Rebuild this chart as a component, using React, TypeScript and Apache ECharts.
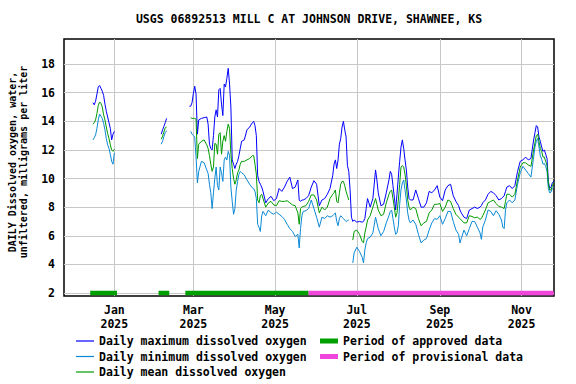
import React, { useEffect, useRef } from 'react';
import * as echarts from 'echarts';

const FONT = '"DejaVu Sans Mono", "Liberation Mono", monospace';

const titleText = 'USGS 06892513 MILL C AT JOHNSON DRIVE, SHAWNEE, KS';
const yAxisTitle = ['DAILY Dissolved oxygen, water,', 'unfiltered, milligrams per liter'];
const yTicks = [2, 4, 6, 8, 10, 12, 14, 16, 18];
const xTicks = ['2025-01-01', '2025-03-01', '2025-05-01', '2025-07-01', '2025-09-01', '2025-11-01'];
const xTickLabels = ['Jan\n2025', 'Mar\n2025', 'May\n2025', 'Jul\n2025', 'Sep\n2025', 'Nov\n2025'];
const xRange = ['2024-11-24T10:00:00', '2025-11-25T05:00:00'];

const nameMax = 'Daily maximum dissolved oxygen';
const nameMin = 'Daily minimum dissolved oxygen';
const nameMean = 'Daily mean dissolved oxygen';
const nameApproved = 'Period of approved data';
const nameProvisional = 'Period of provisional data';

// dates (null values break the lines)
const dates = [
  // Dec 2024 - Jan 1
  '2024-12-16', '2024-12-17', '2024-12-18', '2024-12-19', '2024-12-20', '2024-12-21', '2024-12-22', '2024-12-23',
  '2024-12-24', '2024-12-25', '2024-12-26', '2024-12-27', '2024-12-28', '2024-12-29', '2024-12-30', '2024-12-31', '2025-01-01',
  '2025-01-20',
  // Feb
  '2025-02-05', '2025-02-06', '2025-02-07', '2025-02-08', '2025-02-09',
  '2025-02-17',
  '2025-02-26', '2025-02-27', '2025-02-28',
  // Mar
  '2025-03-01', '2025-03-02', '2025-03-03', '2025-03-04', '2025-03-05', '2025-03-07', '2025-03-09', '2025-03-11',
  '2025-03-12', '2025-03-13', '2025-03-14', '2025-03-15', '2025-03-16', '2025-03-17', '2025-03-18', '2025-03-19', '2025-03-20',
  '2025-03-21', '2025-03-22', '2025-03-23', '2025-03-24', '2025-03-25', '2025-03-26', '2025-03-27', '2025-03-28', '2025-03-29',
  '2025-03-30', '2025-03-31',
  // Apr
  '2025-04-01', '2025-04-02', '2025-04-03', '2025-04-04', '2025-04-05', '2025-04-06', '2025-04-08', '2025-04-10', '2025-04-12',
  '2025-04-14', '2025-04-15', '2025-04-16', '2025-04-17', '2025-04-18', '2025-04-19', '2025-04-20', '2025-04-21', '2025-04-22',
  '2025-04-24', '2025-04-26', '2025-04-28', '2025-04-30',
  // May
  '2025-05-02', '2025-05-04', '2025-05-06', '2025-05-08', '2025-05-10', '2025-05-12', '2025-05-14', '2025-05-16', '2025-05-18',
  '2025-05-19', '2025-05-20', '2025-05-21', '2025-05-22', '2025-05-24', '2025-05-26', '2025-05-28', '2025-05-30',
  // Jun
  '2025-06-01', '2025-06-03', '2025-06-05', '2025-06-07', '2025-06-09', '2025-06-11', '2025-06-13', '2025-06-14', '2025-06-15',
  '2025-06-16', '2025-06-17', '2025-06-18', '2025-06-19', '2025-06-20', '2025-06-21', '2025-06-22', '2025-06-23', '2025-06-24',
  '2025-06-25', '2025-06-26', '2025-06-27', '2025-06-28', '2025-06-29',
  // Jul
  '2025-07-01', '2025-07-03', '2025-07-05', '2025-07-06', '2025-07-07', '2025-07-08', '2025-07-09', '2025-07-11', '2025-07-13',
  '2025-07-15', '2025-07-16', '2025-07-17', '2025-07-19', '2025-07-21', '2025-07-23', '2025-07-25', '2025-07-26', '2025-07-27',
  '2025-07-28', '2025-07-29', '2025-07-30', '2025-07-31',
  // Aug
  '2025-08-01', '2025-08-02', '2025-08-03', '2025-08-04', '2025-08-05', '2025-08-06', '2025-08-07', '2025-08-08', '2025-08-09',
  '2025-08-10', '2025-08-12', '2025-08-14', '2025-08-16', '2025-08-18', '2025-08-20', '2025-08-22', '2025-08-24', '2025-08-26',
  '2025-08-28', '2025-08-30',
  // Sep
  '2025-09-01', '2025-09-03', '2025-09-05', '2025-09-07', '2025-09-09', '2025-09-11', '2025-09-13', '2025-09-15', '2025-09-16',
  '2025-09-17', '2025-09-19', '2025-09-21', '2025-09-23', '2025-09-25', '2025-09-27', '2025-09-29',
  // Oct
  '2025-10-01', '2025-10-02', '2025-10-03', '2025-10-05', '2025-10-07', '2025-10-09', '2025-10-11', '2025-10-13', '2025-10-15',
  '2025-10-17', '2025-10-18', '2025-10-19', '2025-10-20', '2025-10-21', '2025-10-23', '2025-10-25', '2025-10-27', '2025-10-29',
  '2025-10-31',
  // Nov
  '2025-11-02', '2025-11-04', '2025-11-06', '2025-11-08', '2025-11-10', '2025-11-11', '2025-11-12', '2025-11-13', '2025-11-14',
  '2025-11-15', '2025-11-16', '2025-11-17', '2025-11-18', '2025-11-19', '2025-11-20', '2025-11-21', '2025-11-22', '2025-11-23',
  '2025-11-24', '2025-11-25',
];

const dailyMax = [
  15.3, 15.15, 15.4, 15.9, 16.4, 16.5, 16.3, 16.1, 15.8, 15.2, 14.7, 14.3, 13.9, 13.5, 12.7, 13.1, 13.3,
  null,
  13.1, 13.4, 13.65, 13.9, 14.2,
  null,
  15.05, 15.05, 15.3,
  15.95, 16.45, 15.9, 13.1, 14.1, 14.2, 14.25, 14.3, 13.8, 12.4, 12.1, 12.0, 13.0, 14.3, 14.8, 14.3, 16.2, 16.3, 15.2, 14.4,
  16.6, 16.4, 17.0, 17.7, 16.6, 15.0, 11.3, 11.0,
  10.7, 11.0, 11.2, 11.6, 12.1, 12.6, 12.7, 13.4, 13.6, 13.9, 14.0, 13.7, 13.0, 10.2, 9.8, 9.6, 9.4, 9.1, 8.3, 8.6, 8.75, 8.45,
  8.6, 9.3, 9.1, 9.4, 9.8, 10.1, 9.3, 9.4, 9.9, 8.5, 8.4, 8.5, 8.5, 8.6, 8.8, 9.4, 9.85,
  9.6, 8.1, 8.5, 8.6, 8.9, 9.3, 10.2, 11.0, 11.3, 10.7, 11.3, 12.4, 12.8, 13.6, 14.0, 13.4, 12.9, 10.9, 10.5, 9.2, 7.3, 7.0, 7.1,
  6.95, 7.0, 6.95, 7.0, 7.2, 7.9, 8.6, 8.0, 8.6, 10.6, 9.9, 9.0, 8.1, 8.2, 9.0, 9.9, 10.5, 10.3, 9.5, 8.7, 7.8, 8.9,
  10.1, 11.2, 12.2, 12.7, 12.1, 11.3, 10.6, 9.4, 8.6, 8.5, 8.5, 9.2, 8.6, 8.0, 8.0, 8.3, 9.1, 9.0, 9.2, 9.5,
  8.7, 8.45, 9.2, 9.5, 9.6, 8.8, 8.4, 8.1, 7.8, 7.6, 7.3, 7.2, 7.8, 7.9, 8.0, 7.9,
  8.0, 8.1, 8.3, 8.5, 8.9, 9.1, 9.0, 8.8, 8.5, 8.6, 8.7, 8.8, 9.1, 9.4, 9.5, 9.3, 9.5, 10.5, 11.2,
  11.3, 11.5, 11.3, 11.4, 12.7, 13.2, 13.7, 13.6, 12.9, 12.6, 12.2, 11.9, 12.0, 11.7, 11.4, 9.8, 9.3, 9.4, 9.7, 9.8,
];

const dailyMin = [
  12.7, 12.85, 13.05, 13.5, 14.1, 14.5, 14.35, 14.2, 13.85, 13.4, 12.8, 12.35, 12.1, 11.7, 11.2, 11.0, 11.8,
  null,
  12.4, 12.6, 12.95, 13.2, 13.35,
  null,
  null, 13.3, 13.1,
  13.0, 12.9, 11.5, 9.7, 10.5, 11.2, 11.1, 10.6, 10.35, 9.6, 9.0, 7.9, 9.0, 10.0, 10.8, 9.5, 9.2, 10.8, 10.4, 9.8,
  11.3, 11.5, 11.3, 11.9, 11.6, 9.4, 8.4, 7.5,
  7.9, 9.2, 9.8, 10.3, 10.5, 10.4, 10.25, 9.9, 9.6, 9.35, 9.3, 9.1, 8.6, 6.8, 6.6, 6.3, 7.4, 7.7, 7.4, 7.8, 7.6, 7.5,
  7.65, 7.5, 7.35, 7.15, 6.8, 6.5, 6.3, 5.95, 6.1, 5.15, 6.5, 7.4, 7.7, 7.75, 7.9, 8.5, 7.9,
  7.3, 6.6, 7.3, 7.2, 7.4, 7.3, 7.4, 7.5, 7.6, 7.0, 6.7, 7.2, 7.4, 7.3, 7.2, 7.1, 7.0, 7.05, 7.1, null, null, 4.1, 4.8,
  5.2, 4.9, 4.5, 4.1, 5.0, 5.5, 5.8, 5.9, 6.2, 7.3, 6.9, 6.5, 6.0, 6.3, 6.9, 7.4, 7.7, 7.8, 7.2, 6.6, 6.1, 6.2,
  6.7, 8.2, 9.2, 9.7, 9.9, 9.2, 8.5, 7.6, 7.1, 6.9, 7.1, 6.8, 6.1, 5.5, 5.7, 5.8, 6.4, 6.9, 7.2, 7.15,
  7.4, 6.8, 7.2, 7.7, 7.7, 7.0, 6.4, 6.1, 5.5, 5.8, 6.4, 6.0, 6.5, 7.0, 7.0, 6.6,
  6.2, 5.75, 6.6, 7.1, 7.8, 7.7, 7.4, 7.75, 7.5, 7.1, 6.6, 6.5, 7.8, 8.3, 8.5, 8.3, 8.5, 9.6, 10.4,
  10.85, 10.6, 10.35, 10.1, 11.5, 12.2, 12.6, 12.8, 12.2, 11.6, 11.35, 11.0, 11.05, 10.85, 10.5, 9.3, 9.0, 9.05, 9.3, 9.4,
];

const dailyMean = [
  13.8, 13.9, 14.1, 14.55, 15.1, 15.35, 15.25, 15.0, 14.45, 14.1, 13.6, 13.15, 12.8, 12.35, 12.0, 11.9, 12.05,
  null,
  12.75, 12.95, 13.25, 13.55, 13.6,
  null,
  null, 14.25, 14.2,
  14.2, 14.2, 14.15, 11.4, 12.4, 12.6, 12.7, 12.35, 12.1, 11.6, 11.0, 10.5, 10.8, 12.45, 12.4, 11.7, 13.1, 13.2, 11.7, 12.6,
  13.0, 12.6, 13.3, 13.8, 13.5, 11.7, 10.7, 10.0,
  9.6, 9.9, 10.4, 10.6, 11.0, 11.2, 11.2, 11.3, 11.4, 11.6, 11.6, 11.0, 10.3, 8.5, 8.3, 8.8, 8.9, 8.6, 8.0, 8.3, 8.4, 8.15,
  8.1, 8.45, 8.4, 8.4, 8.45, 8.3, 8.15, 8.1, 7.6, 6.8, 7.9, 8.0, 8.05, 8.1, 8.4, 8.85, 8.85,
  8.5, 7.6, 8.0, 7.8, 8.0, 8.6, 8.9, 9.0, 9.2, 8.4, 8.3, 9.0, 9.6, 9.8, 9.8, 9.5, 9.1, 8.8, 8.5, null, null, 5.7, 6.3,
  6.4, 6.1, 5.6, 5.5, 6.2, 6.6, 7.1, 7.4, 8.0, 8.6, 8.2, 7.8, 7.4, 7.5, 8.3, 8.9, 9.1, 9.2, 8.6, 8.0, 7.3, 7.6,
  8.5, 9.6, 10.8, 10.9, 10.8, 10.3, 9.5, 8.5, 8.0, 7.8, 8.0, 7.9, 7.2, 6.7, 6.9, 7.0, 7.6, 7.8, 8.2, 8.2,
  8.25, 7.7, 8.0, 8.5, 8.4, 7.9, 7.5, 7.3, 7.2, 7.1, 6.9, 6.9, 7.4, 7.35, 7.25, 7.3,
  7.15, 7.2, 7.4, 7.8, 8.3, 8.4, 8.5, 8.25, 8.05, 8.0, 7.95, 7.9, 8.4, 8.9, 8.9, 8.7, 8.9, 9.9, 10.8,
  11.1, 11.1, 10.95, 10.85, 12.0, 12.5, 13.0, 13.1, 12.6, 12.1, 11.9, 11.5, 11.5, 11.2, 10.9, 9.6, 9.2, 9.2, 9.5, 9.7,
];

const approvedPeriods = [
  ['2024-12-14', '2025-01-03'],
  ['2025-02-03', '2025-02-11'],
  ['2025-02-23', '2025-05-26'],
];
const provisionalPeriods = [['2025-05-26', '2025-11-25']];
const periodLevel = 2;

const COLOR_MAX = '#0000ff';
const COLOR_MIN = '#0a88d6';
const COLOR_MEAN = '#009a00';
const COLOR_APPROVED = '#00a000';
const COLOR_PROVISIONAL = '#f046dc';

const textBase = { fontFamily: FONT, fontWeight: 'bold' as const, fontSize: 11.5, color: '#000' };

const toTime = (s: string) => new Date(s.length === 10 ? s + 'T00:00:00' : s).getTime();

function dailySeries(name: string, values: (number | null)[], color: string) {
  return {
    name,
    type: 'line',
    data: dates.map((d, i) => [toTime(d), values[i] == null ? '-' : values[i]]),
    showSymbol: false,
    symbol: 'none',
    connectNulls: false,
    silent: true,
    lineStyle: { color, width: 1 },
    itemStyle: { color },
    emphasis: { disabled: true },
  };
}

function periodSeries(name: string, periods: string[][], color: string) {
  const data: any[] = [];
  periods.forEach(([s, e]) => {
    data.push([toTime(s), periodLevel], [toTime(e), periodLevel], [toTime(e), '-']);
  });
  return {
    name,
    type: 'line',
    data,
    showSymbol: false,
    symbol: 'none',
    connectNulls: false,
    silent: true,
    z: 3,
    lineStyle: { color, width: 4.5, cap: 'butt' },
    itemStyle: { color },
    emphasis: { disabled: true },
  };
}

export default function App() {
  const ref = useRef<HTMLDivElement>(null);
  useEffect(() => {
    if (!ref.current) return;
    document.body.style.margin = '0';
    const chart = echarts.init(ref.current, undefined, { renderer: 'svg' });
    const tickTimes = xTicks.map(toTime);
    chart.setOption({
      animation: false,
      backgroundColor: '#ffffff',
      title: {
        text: titleText,
        left: 309,
        top: 12,
        textAlign: 'center',
        padding: 0,
        textStyle: { ...textBase, lineHeight: 14 },
      },
      grid: {
        left: 64,
        right: 22,
        top: 39,
        bottom: 88,
        show: true,
        borderColor: '#000',
        borderWidth: 1.5,
        backgroundColor: 'transparent',
      },
      xAxis: {
        type: 'value',
        min: toTime(xRange[0]),
        max: toTime(xRange[1]),
        axisLine: { show: false },
        axisTick: { show: false, customValues: tickTimes },
        axisLabel: {
          customValues: tickTimes,
          margin: 7,
          ...textBase,
          lineHeight: 14,
          formatter: (v: number) => {
            const idx = tickTimes.findIndex((t) => Math.abs(t - v) < 3600000);
            return idx >= 0 ? xTickLabels[idx] : '';
          },
        },
        splitLine: { show: true, lineStyle: { color: '#c8c8c8', width: 1 } },
      },
      yAxis: {
        type: 'value',
        min: 1.79,
        max: 19.75,
        axisLine: { show: false },
        axisTick: { show: false, customValues: yTicks },
        axisLabel: {
          customValues: yTicks,
          margin: 9,
          ...textBase,
          formatter: (v: number) => String(Math.round(v)),
        },
        splitLine: { show: true, lineStyle: { color: '#c8c8c8', width: 1 } },
      },
      legend: [
        {
          orient: 'vertical',
          left: 76,
          top: 334,
          padding: 0,
          itemWidth: 18,
          itemHeight: 1.2,
          itemGap: 1.5,
          icon: 'rect',
          selectedMode: false,
          itemStyle: { borderWidth: 0 },
          data: [nameMax, nameMin, nameMean],
          textStyle: { ...textBase, lineHeight: 14 },
        },
        {
          orient: 'vertical',
          left: 320,
          top: 334,
          padding: 0,
          itemWidth: 18,
          itemHeight: 5,
          itemGap: 1.5,
          icon: 'rect',
          selectedMode: false,
          itemStyle: { borderWidth: 0 },
          data: [nameApproved, nameProvisional],
          textStyle: { ...textBase, lineHeight: 14 },
        },
      ],
      graphic: [
        {
          type: 'text',
          x: 18,
          y: 162,
          rotation: Math.PI / 2,
          silent: true,
          style: {
            text: yAxisTitle.join('\n'),
            fontFamily: FONT,
            fontWeight: 'bold',
            fontSize: 10,
            lineHeight: 10.6,
            align: 'center',
            verticalAlign: 'middle',
            fill: '#000',
          },
        },
      ],
      series: [
        dailySeries(nameMax, dailyMax, COLOR_MAX),
        dailySeries(nameMin, dailyMin, COLOR_MIN),
        dailySeries(nameMean, dailyMean, COLOR_MEAN),
        periodSeries(nameApproved, approvedPeriods, COLOR_APPROVED),
        periodSeries(nameProvisional, provisionalPeriods, COLOR_PROVISIONAL),
      ],
    });
    return () => chart.dispose();
  }, []);
  return <div ref={ref} style={{ width: 576, height: 384 }} />;
}
